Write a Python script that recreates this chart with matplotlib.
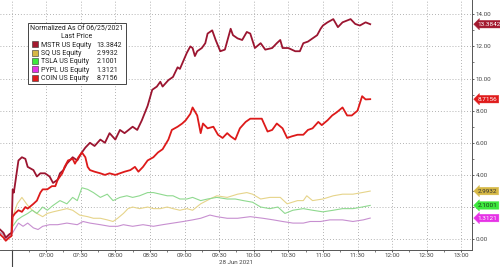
import matplotlib
matplotlib.use('Agg')
from matplotlib import pyplot as plt
from matplotlib.patches import Patch
from matplotlib.ticker import FixedLocator, MultipleLocator, NullFormatter
import matplotlib.transforms as mtransforms

plt.rcParams['font.family'] = ['Roboto', 'DejaVu Sans']

# times are minutes from 07:00 on 28 Jun 2021
mstr_t = [-40, -37, -35, -32, -30, -29, -28, -24, -21, -18, -16, -11, -8, -5, -1, 3, 6, 10, 12, 15,
          18, 23, 27, 31, 34, 38, 42, 47, 51, 55, 60, 64, 68, 75, 79, 83, 88, 92, 96, 99,
          101, 106, 110, 114, 116, 119, 122, 125, 127, 129, 131, 135, 138, 140, 144, 147, 151, 155, 160, 162,
          166, 170, 174, 177, 181, 186, 190, 196, 200, 203, 205, 210, 216, 220, 223, 227, 231, 235, 238, 240,
          244, 249, 253, 257, 264, 268, 272, 277, 281]
mstr_v = [0.6, 0.4, 0.1, 0.3, 0.4, 3.1, 2.9, 4.9, 5.1, 5.0, 4.5, 4.3, 3.9, 4.1, 4.1, 3.9, 3.5, 3.7, 4.1, 4.3,
          4.7, 5.1, 4.9, 5.4, 5.7, 6.0, 5.8, 6.2, 6.0, 6.6, 6.2, 6.8, 6.6, 7.0, 6.8, 7.4, 8.3, 9.3, 9.5, 9.8,
          9.5, 9.9, 10.1, 10.7, 10.6, 11.1, 11.6, 12.0, 11.9, 11.4, 11.7, 11.9, 12.2, 12.8, 13.0, 12.4, 11.7, 11.8, 13.1, 12.7,
          12.5, 12.4, 12.9, 12.8, 11.9, 12.2, 11.8, 11.9, 12.2, 12.4, 11.9, 11.9, 11.7, 11.7, 12.2, 12.3, 12.5, 12.7, 13.1, 13.3,
          13.5, 13.7, 13.2, 13.5, 13.7, 13.4, 13.3, 13.5, 13.3842]

coin_t = [-40, -37, -35, -32, -30, -29, -27, -24, -21, -18, -16, -11, -8, -5, -3, 1, 5, 8, 10, 14,
          16, 19, 23, 25, 28, 31, 34, 36, 38, 42, 47, 51, 55, 60, 64, 68, 73, 77, 80, 84,
          88, 93, 97, 101, 106, 109, 114, 118, 121, 125, 127, 131, 134, 136, 140, 145, 149, 153, 157, 160,
          164, 168, 173, 177, 183, 187, 192, 196, 200, 205, 209, 213, 218, 223, 227, 231, 236, 239, 244, 248,
          252, 257, 261, 265, 270, 274, 277, 281]
coin_v = [0.3, 0.1, -0.1, 0.1, 0.2, 1.4, 1.6, 1.8, 1.7, 2.0, 1.9, 2.2, 2.4, 2.9, 3.1, 3.1, 3.3, 3.3, 3.7, 4.1,
          4.5, 4.9, 5.0, 4.7, 5.1, 5.4, 5.1, 4.5, 4.3, 4.2, 4.1, 4.0, 4.1, 4.0, 4.1, 4.2, 4.3, 4.5, 4.2, 4.5,
          4.9, 5.1, 5.4, 5.6, 6.2, 6.8, 7.0, 7.2, 7.4, 7.8, 8.2, 7.7, 6.6, 7.2, 6.9, 7.0, 6.5, 6.3, 6.6, 6.4,
          6.2, 6.9, 7.3, 7.5, 7.5, 7.5, 6.7, 6.8, 7.2, 6.9, 6.3, 6.4, 6.5, 6.5, 6.8, 6.9, 7.3, 7.1, 7.4, 7.7,
          7.9, 8.2, 7.7, 7.7, 8.0, 8.9, 8.7, 8.7156]

sq_t = [-40, -37, -35, -32, -30, -29, -25, -21, -16, -12, -8, -3, 1, 6, 12, 18, 23, 29, 36, 41,
        47, 53, 58, 62, 67, 71, 75, 81, 88, 93, 99, 105, 110, 116, 122, 127, 134, 142, 148, 157,
        166, 174, 179, 186, 194, 203, 209, 218, 223, 226, 231, 240, 249, 257, 266, 274, 281]
sq_v = [0.4, 0.3, 0.0, 0.2, 0.3, 1.4, 2.2, 2.6, 2.1, 1.8, 1.6, 1.4, 1.6, 1.7, 1.8, 1.9, 1.8, 1.5, 1.4, 1.3,
        1.3, 1.2, 1.1, 1.3, 1.6, 1.9, 2.0, 1.9, 2.0, 1.9, 1.9, 2.0, 1.9, 1.8, 1.9, 1.8, 2.2, 2.5, 2.7, 2.6,
        2.8, 2.9, 2.8, 2.5, 2.6, 2.6, 2.2, 2.4, 2.4, 2.7, 2.4, 2.5, 2.7, 2.8, 2.8, 2.9, 2.9932]

tsla_t = [-40, -37, -35, -32, -30, -29, -25, -21, -16, -12, -8, -3, 1, 6, 12, 18, 23, 27, 31, 36,
          41, 47, 53, 58, 64, 70, 75, 81, 88, 93, 99, 105, 110, 116, 122, 127, 134, 140, 148, 157,
          164, 171, 179, 186, 194, 201, 207, 214, 223, 231, 240, 249, 257, 266, 274, 281]
tsla_v = [0.4, 0.3, 0.0, 0.2, 0.3, 0.8, 1.2, 1.4, 1.6, 1.8, 1.6, 2.0, 1.8, 2.1, 2.4, 2.2, 2.6, 2.4, 3.2, 3.1,
          2.9, 2.6, 2.8, 2.4, 2.6, 2.7, 2.6, 2.7, 2.9, 2.9, 2.8, 2.7, 2.7, 2.5, 2.5, 2.6, 2.4, 2.5, 2.6, 2.5,
          2.5, 2.4, 2.3, 2.0, 1.9, 2.0, 1.6, 1.8, 1.9, 1.8, 1.7, 1.8, 1.9, 1.9, 2.0, 2.1001]

pypl_t = [-40, -37, -35, -32, -30, -29, -24, -20, -16, -11, -7, -3, 3, 10, 18, 27, 32, 38, 47, 55,
          62, 67, 75, 84, 93, 101, 110, 119, 127, 134, 142, 148, 157, 166, 177, 188, 197, 205, 214, 223,
          229, 238, 246, 257, 266, 275, 281]
pypl_v = [0.4, 0.3, 0.0, 0.2, 0.3, 0.4, 1.0, 0.8, 1.0, 0.7, 0.6, 0.8, 0.9, 0.9, 1.0, 0.9, 1.1, 1.0, 0.9, 0.8,
          0.8, 0.9, 0.8, 0.9, 0.8, 0.9, 1.0, 1.1, 1.2, 1.3, 1.5, 1.4, 1.3, 1.3, 1.4, 1.3, 1.2, 1.1, 1.0, 1.0,
          1.1, 1.1, 1.2, 1.2, 1.1, 1.2, 1.3121]

names = ['MSTR US Equity', 'SQ US Equity', 'TSLA US Equity', 'PYPL US Equity', 'COIN US Equity']
last_labels = ['13.3842', '2.9932', '2.1001', '1.3121', '8.7156']
tick_labels = ['', '07:00', '07:30', '08:00', '08:30', '09:00', '09:30', '10:00',
               '10:30', '11:00', '11:30', '12:00', '12:30', '13:00']
y_ticks = [0, 2, 4, 6, 8, 10, 12, 14]

line_colors = ['#9b1530', '#e6d48a', '#8fd98f', '#c78fd0', '#dd1a1a']
key_colors = ['#a3192f', '#d6b845', '#3de83d', '#e632e6', '#e01b1b']
tag_text = ['white', '#333333', '#1a3a1a', 'white', 'white']

fig = plt.figure(figsize=(5, 2.67), dpi=100)
ax = fig.add_axes([0, 0.064, 0.9434, 0.936])

base = 7 * 60
series = [(mstr_t, mstr_v), (sq_t, sq_v), (tsla_t, tsla_v), (pypl_t, pypl_v), (coin_t, coin_v)]
widths = [1.3, 0.8, 0.8, 0.8, 1.3]
order = [1, 2, 3, 0, 4]
for i in order:
    t, v = series[i]
    ax.plot([base + m for m in t], v, color=line_colors[i], lw=widths[i], zorder=3 + (i in (0, 4)))

ax.set_xlim(base - 40, base + 369)
ax.set_ylim(-0.67, 14.89)

major = [base - 30 + 30 * k for k in range(len(tick_labels))]
ax.xaxis.set_major_locator(FixedLocator(major))
ax.set_xticklabels(tick_labels)
ax.xaxis.set_minor_locator(MultipleLocator(15))
ax.xaxis.set_minor_formatter(NullFormatter())

ax.yaxis.tick_right()
ax.set_yticks(y_ticks)
ax.set_yticklabels([f'{y:.2f}' for y in y_ticks])
ax.yaxis.set_minor_locator(MultipleLocator(1))

ax.tick_params(axis='both', which='major', labelsize=4.5, colors='#444444', length=1.5, width=0.6, pad=0.6)
ax.tick_params(axis='y', which='major', pad=1.2)
ax.tick_params(axis='both', which='minor', length=1.1, width=0.5, colors='#444444')

ax.grid(True, which='major', color='#9a9a9a', linestyle=(0, (1, 2.5)), linewidth=0.6)
for side in ['left', 'top']:
    ax.spines[side].set_visible(False)
for side in ['bottom', 'right']:
    ax.spines[side].set_color('#555555')
    ax.spines[side].set_linewidth(0.7)

# day separator below the axis
sep = mtransforms.blended_transform_factory(ax.transData, ax.transAxes)
ax.plot([base - 30, base - 30], [0, -0.075], transform=sep, color='#444444', lw=0.8, clip_on=False)
ax.text(0.5, -0.052, '28 Jun 2021', transform=ax.transAxes, ha='center', va='center',
        fontsize=4.5, color='#444444')

# legend with values in a second column
key_handles = [Patch(facecolor=c, edgecolor='#333333', linewidth=0.4) for c in key_colors]
blank = [Patch(visible=False) for _ in names]
leg = ax.legend(key_handles + blank, names + last_labels, ncol=2, loc='upper left',
                bbox_to_anchor=(0.059, 0.908), borderaxespad=0, fontsize=5,
                title='Normalized As Of 06/25/2021\nLast Price', title_fontsize=5,
                handlelength=0.9, handleheight=0.9, handletextpad=0.4, labelspacing=0.15,
                columnspacing=-0.6, borderpad=0.35, fancybox=False, framealpha=1)
leg.get_frame().set_edgecolor('#444444')
leg.get_frame().set_linewidth(0.7)
for txt in leg.get_texts():
    txt.set_color('#222222')
leg.get_title().set_color('#222222')
leg.get_title().set_multialignment('center')

# last-price tags on the right axis
trans = mtransforms.blended_transform_factory(ax.transAxes, ax.transData)
for i in range(len(names)):
    ax.text(1.013, series[i][1][-1], last_labels[i], transform=trans, ha='left', va='center',
            fontsize=4.6, color=tag_text[i], clip_on=False, zorder=6,
            bbox=dict(boxstyle='larrow,pad=0.2', fc=key_colors[i], ec=key_colors[i], lw=0.3))

fig.savefig('out.png', dpi=100)
